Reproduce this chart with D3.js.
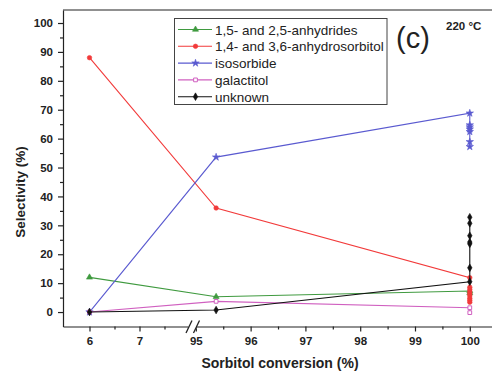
<!DOCTYPE html>
<html><head><meta charset="utf-8">
<script src="https://cdn.jsdelivr.net/npm/d3@7"></script>
<style>
body{margin:0;background:#fff;}
svg{display:block;font-family:"Liberation Sans",Arial,sans-serif;}
</style></head><body>
<svg id="c" width="492" height="374"></svg>
<script>
// ---- data ----
const seriesNames = ["1,5- and 2,5-anhydrides","1,4- and 3,6-anhydrosorbitol","isosorbide","galactitol","unknown"];
const seriesColors = ["#3f9a3f","#f23a3a","#5a5ad0","#d060c0","#111111"];
const seriesMarkers = ["triangle","circle","star","square","diamond"];
const anhydridesX = [6, 95.37, 100, 100];
const anhydridesY = [12.0, 5.3, 7.3, 6.6];
const anhydrosorbitolX = [6, 95.37, 100, 100, 100, 100, 100, 100, 100, 100, 100];
const anhydrosorbitolY = [88.0, 36.0, 11.9, 8.6, 7.8, 7.0, 6.3, 5.6, 4.8, 4.1, 3.4];
const isosorbideX = [6, 95.37, 100, 100, 100, 100, 100, 100, 100];
const isosorbideY = [0, 53.6, 68.8, 64.7, 64.0, 63.3, 62.4, 58.9, 57.2];
const galactitolX = [6, 95.37, 100, 100];
const galactitolY = [0, 3.7, 1.5, -0.2];
const unknownX = [6, 95.37, 100, 100, 100, 100, 100, 100, 100];
const unknownY = [0, 0.7, 10.5, 15.3, 23.6, 24.2, 26.4, 30.7, 32.8];
const xTickValues = [6, 7, 95, 96, 97, 98, 99, 100];
const xMinorTicks = [6.5, 7.5, 95.5, 96.5, 97.5, 98.5, 99.5];
const yTickValues = [0, 10, 20, 30, 40, 50, 60, 70, 80, 90, 100];
const yMinorTicks = [5, 15, 25, 35, 45, 55, 65, 75, 85, 95];

const seriesX = [anhydridesX, anhydrosorbitolX, isosorbideX, galactitolX, unknownX];
const seriesY = [anhydridesY, anhydrosorbitolY, isosorbideY, galactitolY, unknownY];

// ---- chart ----
const svg = d3.select("#c");
const L = 63, R = 492.8, T = 10, B = 326.5;
const x = d3.scaleLinear().domain([5.47, 8.03, 94.93, 100.42]).range([L, 191, 192, R]);
const y = d3.scaleLinear().domain([-5, 104.5]).range([B, T]);

// frame top line
svg.append("line").attr("x1", L).attr("x2", 492).attr("y1", T).attr("y2", T)
  .attr("stroke", "#222").attr("stroke-width", 1.2);

const tickFont = g => g.selectAll("text").attr("font-size", 11.5).attr("font-weight", "bold").attr("fill", "#222");

// x axis
const gx = svg.append("g").attr("transform", `translate(0,${B})`)
  .call(d3.axisBottom(x).tickValues(xTickValues).tickFormat(d3.format("d")).tickSize(5).tickSizeOuter(0).tickPadding(5));
gx.call(tickFont);
gx.select(".domain").attr("stroke", "#222").attr("stroke-width", 1.2);
gx.selectAll(".tick line").attr("stroke", "#222").attr("stroke-width", 1.2);
svg.append("g").attr("transform", `translate(0,${B})`)
  .call(d3.axisBottom(x).tickValues(xMinorTicks).tickFormat("").tickSize(3).tickSizeOuter(0))
  .call(g => g.select(".domain").remove())
  .selectAll(".tick line").attr("stroke", "#222").attr("stroke-width", 1.2);

// axis break
svg.append("rect").attr("x", 188.5).attr("y", B - 2).attr("width", 8).attr("height", 4).attr("fill", "#fff");
[[186, 333, 192, 320.5], [193.5, 333, 199.5, 320.5]].forEach(s => {
  svg.append("line").attr("x1", s[0]).attr("y1", s[1]).attr("x2", s[2]).attr("y2", s[3])
    .attr("stroke", "#222").attr("stroke-width", 1.3);
});

// y axis
const gy = svg.append("g").attr("transform", `translate(${L},0)`)
  .call(d3.axisLeft(y).tickValues(yTickValues).tickFormat(d3.format("d")).tickSize(5).tickSizeOuter(0).tickPadding(5));
gy.call(tickFont);
gy.select(".domain").attr("stroke", "#222").attr("stroke-width", 1.2);
gy.selectAll(".tick line").attr("stroke", "#222").attr("stroke-width", 1.2);
svg.append("g").attr("transform", `translate(${L},0)`)
  .call(d3.axisLeft(y).tickValues(yMinorTicks).tickFormat("").tickSize(3).tickSizeOuter(0))
  .call(g => g.select(".domain").remove())
  .selectAll(".tick line").attr("stroke", "#222").attr("stroke-width", 1.2);

// axis titles
svg.append("text").attr("x", 280).attr("y", 368).attr("text-anchor", "middle")
  .attr("font-size", 14).attr("font-weight", "bold").attr("fill", "#222").text("Sorbitol conversion (%)");
svg.append("text").attr("transform", "translate(25,192) rotate(-90)").attr("text-anchor", "middle")
  .attr("font-size", 13.5).attr("font-weight", "bold").attr("fill", "#222").text("Selectivity (%)");

// markers
const symType = {triangle: d3.symbolTriangle, circle: d3.symbolCircle, star: d3.symbolStar, square: d3.symbolSquare, diamond: d3.symbolDiamond};
function marker(g, type, color, cx, cy) {
  const size = {triangle: 16, circle: 16, star: 17, square: 14, diamond: 17}[type];
  g.append("path").attr("d", d3.symbol().type(symType[type]).size(size)())
    .attr("transform", `translate(${cx},${cy})`)
    .attr("fill", type === "square" ? "#fff" : color)
    .attr("stroke", color).attr("stroke-width", type === "square" ? 1 : 0.6);
}

const line = d3.line().x(d => x(d[0])).y(d => y(d[1]));
seriesNames.forEach((name, i) => {
  const pts = seriesX[i].map((v, j) => [v, seriesY[i][j]]);
  const g = svg.append("g");
  g.append("path").attr("d", line(pts)).attr("fill", "none").attr("stroke", seriesColors[i]).attr("stroke-width", 1.1);
  pts.forEach(p => marker(g, seriesMarkers[i], seriesColors[i], x(p[0]), y(p[1])));
});

// legend
const lg = svg.append("g");
lg.append("rect").attr("x", 174.5).attr("y", 18.5).attr("width", 212.5).attr("height", 86)
  .attr("fill", "#fff").attr("stroke", "#444").attr("stroke-width", 1);
seriesNames.forEach((name, i) => {
  const yy = 29.5 + i * 16.8;
  lg.append("line").attr("x1", 178).attr("x2", 212).attr("y1", yy).attr("y2", yy)
    .attr("stroke", seriesColors[i]).attr("stroke-width", 1.1);
  marker(lg, seriesMarkers[i], seriesColors[i], 195.5, yy);
  lg.append("text").attr("x", 215).attr("y", yy + 5).attr("font-size", 13.5).attr("fill", "#222").text(name);
});

// panel label
svg.append("text").attr("x", 396).attr("y", 48).attr("font-size", 29).attr("fill", "#222").text("(c)");
svg.append("text").attr("x", 446).attr("y", 30).attr("font-size", 11.5).attr("font-weight", "bold").attr("fill", "#222").text("220 °C");
</script>
</body></html>
